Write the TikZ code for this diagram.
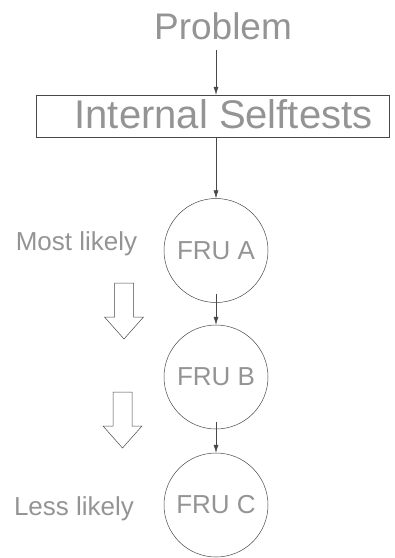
\documentclass[tikz,border=0pt]{standalone}
\usepackage{fontspec}
\setmainfont{Liberation Sans}
\usetikzlibrary{arrows.meta}

\tikzset{
  ink/.style={draw=black!72, line width=0.5pt},
  lbl/.style={text=black!42, inner sep=0pt},
  flow/.style={ink, -{Latex[length=8pt,width=5pt]}},
  frubox/.style={ink, circle, minimum size=104pt, inner sep=0pt, text=black!42,
                 font=\fontsize{26}{26}\selectfont},
  hollowdown/.pic={
    \draw[ink, line join=miter]
      (-9.5,0) -- (9.5,0) -- (9.5,34) -- (19.5,34) -- (0,56)
      -- (-19.5,34) -- (-9.5,34) -- cycle;
  }
}

\begin{document}
\begin{tikzpicture}[x=1pt, y=-1pt]
  \useasboundingbox (0,0) rectangle (395,558);

  % heading
  \node[lbl, anchor=base, font=\fontsize{37}{37}\selectfont] (problem) at (223,39) {Problem};
  \coordinate (p1) at (216,50);

  % self test box
  \node[ink, rectangle, minimum width=353pt, minimum height=42pt, inner sep=0pt]
    (box) at (212.5,116) {};
  \node[lbl, anchor=base, font=\fontsize{40}{40}\selectfont] (boxlabel) at (223.5,128) {Internal Selftests};

  % replaceable units in order of likelihood
  \node[frubox] (A) at (216,250.5) {FRU A};
  \node[frubox] (B) at (216,377)   {FRU B};
  \node[frubox] (C) at (216,505)   {FRU C};

  \coordinate (a1) at ([yshift=9pt]A.south);
  \coordinate (b1) at ([yshift=7pt]B.south);

  \draw[flow] (p1) -- (box.north -| p1);
  \draw[flow] (box.south -| A) -- (A.north);
  \draw[flow] (a1) -- (B.north);
  \draw[flow] (b1) -- (C.north);

  % side labels
  \node[lbl, anchor=base, font=\fontsize{26}{26}\selectfont] (most) at (76.5,250) {Most likely};
  \node[lbl, anchor=base, font=\fontsize{26}{26}\selectfont] (less) at (74,515) {Less likely};

  % hollow downward arrows
  \pic at (124,283) {hollowdown};
  \pic at (122.5,392) {hollowdown};
\end{tikzpicture}
\end{document}
